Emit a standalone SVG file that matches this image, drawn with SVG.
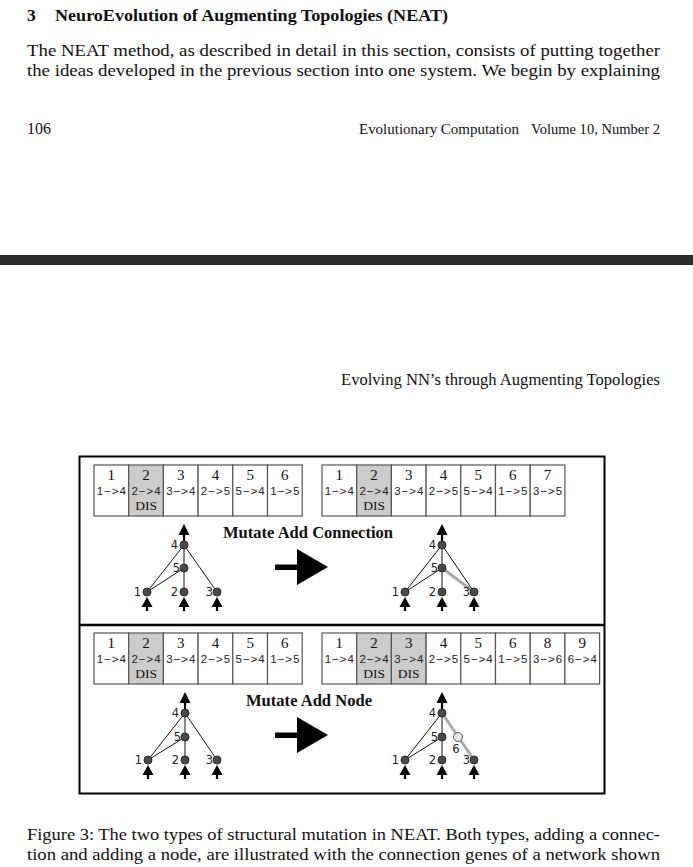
<svg xmlns="http://www.w3.org/2000/svg" width="693" height="867" viewBox="0 0 693 867">
<style>
.head{font-family:"Liberation Serif",serif;font-weight:bold;font-size:17.5px;fill:#111}
.para{font-family:"Liberation Serif",serif;font-size:17.5px;fill:#111}
.small{font-family:"Liberation Serif",serif;font-size:14px;fill:#111}
.gene rect{fill:#fff;stroke:#555;stroke-width:1.2}
.gene.dis rect{fill:#cccccc}
.num{font-family:"Liberation Serif",serif;font-size:15px;text-anchor:middle;fill:#111}
.conn{font-family:"Liberation Sans","DejaVu Sans",sans-serif;font-size:11.5px;letter-spacing:1px;text-anchor:middle;fill:#222}
.dis{font-family:"Liberation Serif",serif;font-size:13.5px;text-anchor:middle;fill:#111}
.title{font-family:"Liberation Serif",serif;font-weight:bold;font-size:16.5px;fill:#111}
.node circle{fill:#4a4a4a;stroke:#2a2a2a;stroke-width:1}
.node.new circle{fill:#e4e4e4;stroke:#555}
.lbl{font-family:"DejaVu Sans","Liberation Sans",sans-serif;font-size:11.5px;fill:#222;text-anchor:end}
.lbl6{font-family:"DejaVu Sans","Liberation Sans",sans-serif;font-size:11.5px;fill:#222;text-anchor:middle}
.edge{stroke:#111;stroke-width:1;fill:none}
.edge.newe{stroke:#aaaaaa;stroke-width:3}
.io{stroke:#000;stroke-width:2.2;fill:none}
.frame{fill:none;stroke:#000;stroke-width:2}
</style>
<defs>
<g id="inArrow"><line class="io" x1="0" y1="10" x2="0" y2="19"/><polygon points="0,5 -5.5,15 5.5,15" fill="#000"/></g>
<g id="outArrow"><line class="io" x1="0" y1="-4" x2="0" y2="-12"/><polygon points="0,-21 -5.5,-10 5.5,-10" fill="#000"/></g>
<g id="bigArrow"><rect x="275" y="-2.5" width="24" height="5.5" fill="#000"/><polygon points="297,-18 328,0 297,18" fill="#000"/></g>
</defs>

<!-- page text -->
<text class="head" x="27" y="21">3</text>
<text class="head" x="55" y="21" textLength="393" lengthAdjust="spacingAndGlyphs">NeuroEvolution of Augmenting Topologies (NEAT)</text>
<text class="para" x="27" y="56" textLength="633" lengthAdjust="spacingAndGlyphs">The NEAT method, as described in detail in this section, consists of putting together</text>
<text class="para" x="27" y="76" textLength="633" lengthAdjust="spacingAndGlyphs">the ideas developed in the previous section into one system.  We begin by explaining</text>
<text class="para" x="27" y="134" style="font-size:16px">106</text>
<text class="small" x="359" y="134" textLength="160" lengthAdjust="spacingAndGlyphs">Evolutionary Computation</text>
<text class="small" x="531" y="134" textLength="129" lengthAdjust="spacingAndGlyphs">Volume 10, Number 2</text>
<rect x="0" y="255" width="693" height="10" fill="#2b2b2b"/>
<text class="para" x="341" y="385" textLength="319" lengthAdjust="spacingAndGlyphs" style="font-size:16px">Evolving NN’s through Augmenting Topologies</text>
<text class="para" x="27" y="840" textLength="633" lengthAdjust="spacingAndGlyphs">Figure 3: The two types of structural mutation in NEAT. Both types, adding a connec-</text>
<text class="para" x="27" y="860" textLength="633" lengthAdjust="spacingAndGlyphs">tion and adding a node, are illustrated with the connection genes of a network shown</text>

<!-- figure frame -->
<g id="frame">
<rect class="frame" x="79.5" y="456.5" width="525" height="337"/>
<line x1="79.5" y1="625" x2="604.5" y2="625" stroke="#000" stroke-width="2.5"/>
</g>

<text class="title" x="223" y="538" textLength="170" lengthAdjust="spacingAndGlyphs">Mutate Add Connection</text>
<text class="title" x="246" y="706" textLength="126" lengthAdjust="spacingAndGlyphs">Mutate Add Node</text>

<use href="#bigArrow" y="567"/>
<use href="#bigArrow" y="735"/>

<!-- Genomes: top-left -->
<g id="genome-tl">
<g class="gene" id="tl-g1"><rect x="94" y="465" width="34.7" height="51"/><text class="num" x="111.35" y="480">1</text><text class="conn" x="111.85" y="495">1−&gt;4</text></g>
<g class="gene dis" id="tl-g2"><rect x="128.7" y="465" width="34.7" height="51"/><text class="num" x="146.05" y="480">2</text><text class="conn" x="146.55" y="495">2−&gt;4</text><text class="dis" x="146.05" y="510">DIS</text></g>
<g class="gene" id="tl-g3"><rect x="163.4" y="465" width="34.7" height="51"/><text class="num" x="180.75" y="480">3</text><text class="conn" x="181.25" y="495">3−&gt;4</text></g>
<g class="gene" id="tl-g4"><rect x="198.1" y="465" width="34.7" height="51"/><text class="num" x="215.45" y="480">4</text><text class="conn" x="215.95" y="495">2−&gt;5</text></g>
<g class="gene" id="tl-g5"><rect x="232.8" y="465" width="34.7" height="51"/><text class="num" x="250.15" y="480">5</text><text class="conn" x="250.65" y="495">5−&gt;4</text></g>
<g class="gene" id="tl-g6"><rect x="267.5" y="465" width="34.7" height="51"/><text class="num" x="284.85" y="480">6</text><text class="conn" x="285.35" y="495">1−&gt;5</text></g>
</g>
<!-- top-right -->
<g id="genome-tr">
<g class="gene" id="tr-g1"><rect x="322" y="465" width="34.7" height="51"/><text class="num" x="339.35" y="480">1</text><text class="conn" x="339.85" y="495">1−&gt;4</text></g>
<g class="gene dis" id="tr-g2"><rect x="356.7" y="465" width="34.7" height="51"/><text class="num" x="374.05" y="480">2</text><text class="conn" x="374.55" y="495">2−&gt;4</text><text class="dis" x="374.05" y="510">DIS</text></g>
<g class="gene" id="tr-g3"><rect x="391.4" y="465" width="34.7" height="51"/><text class="num" x="408.75" y="480">3</text><text class="conn" x="409.25" y="495">3−&gt;4</text></g>
<g class="gene" id="tr-g4"><rect x="426.1" y="465" width="34.7" height="51"/><text class="num" x="443.45" y="480">4</text><text class="conn" x="443.95" y="495">2−&gt;5</text></g>
<g class="gene" id="tr-g5"><rect x="460.8" y="465" width="34.7" height="51"/><text class="num" x="478.15" y="480">5</text><text class="conn" x="478.65" y="495">5−&gt;4</text></g>
<g class="gene" id="tr-g6"><rect x="495.5" y="465" width="34.7" height="51"/><text class="num" x="512.85" y="480">6</text><text class="conn" x="513.35" y="495">1−&gt;5</text></g>
<g class="gene" id="tr-g7"><rect x="530.2" y="465" width="34.7" height="51"/><text class="num" x="547.55" y="480">7</text><text class="conn" x="548.05" y="495">3−&gt;5</text></g>
</g>
<!-- bottom-left -->
<g id="genome-bl">
<g class="gene" id="bl-g1"><rect x="94" y="633" width="34.7" height="51"/><text class="num" x="111.35" y="648">1</text><text class="conn" x="111.85" y="663">1−&gt;4</text></g>
<g class="gene dis" id="bl-g2"><rect x="128.7" y="633" width="34.7" height="51"/><text class="num" x="146.05" y="648">2</text><text class="conn" x="146.55" y="663">2−&gt;4</text><text class="dis" x="146.05" y="678">DIS</text></g>
<g class="gene" id="bl-g3"><rect x="163.4" y="633" width="34.7" height="51"/><text class="num" x="180.75" y="648">3</text><text class="conn" x="181.25" y="663">3−&gt;4</text></g>
<g class="gene" id="bl-g4"><rect x="198.1" y="633" width="34.7" height="51"/><text class="num" x="215.45" y="648">4</text><text class="conn" x="215.95" y="663">2−&gt;5</text></g>
<g class="gene" id="bl-g5"><rect x="232.8" y="633" width="34.7" height="51"/><text class="num" x="250.15" y="648">5</text><text class="conn" x="250.65" y="663">5−&gt;4</text></g>
<g class="gene" id="bl-g6"><rect x="267.5" y="633" width="34.7" height="51"/><text class="num" x="284.85" y="648">6</text><text class="conn" x="285.35" y="663">1−&gt;5</text></g>
</g>
<!-- bottom-right -->
<g id="genome-br">
<g class="gene" id="br-g1"><rect x="322" y="633" width="34.7" height="51"/><text class="num" x="339.35" y="648">1</text><text class="conn" x="339.85" y="663">1−&gt;4</text></g>
<g class="gene dis" id="br-g2"><rect x="356.7" y="633" width="34.7" height="51"/><text class="num" x="374.05" y="648">2</text><text class="conn" x="374.55" y="663">2−&gt;4</text><text class="dis" x="374.05" y="678">DIS</text></g>
<g class="gene dis" id="br-g3"><rect x="391.4" y="633" width="34.7" height="51"/><text class="num" x="408.75" y="648">3</text><text class="conn" x="409.25" y="663">3−&gt;4</text><text class="dis" x="408.75" y="678">DIS</text></g>
<g class="gene" id="br-g4"><rect x="426.1" y="633" width="34.7" height="51"/><text class="num" x="443.45" y="648">4</text><text class="conn" x="443.95" y="663">2−&gt;5</text></g>
<g class="gene" id="br-g5"><rect x="460.8" y="633" width="34.7" height="51"/><text class="num" x="478.15" y="648">5</text><text class="conn" x="478.65" y="663">5−&gt;4</text></g>
<g class="gene" id="br-g6"><rect x="495.5" y="633" width="34.7" height="51"/><text class="num" x="512.85" y="648">6</text><text class="conn" x="513.35" y="663">1−&gt;5</text></g>
<g class="gene" id="br-g8"><rect x="530.2" y="633" width="34.7" height="51"/><text class="num" x="547.55" y="648">8</text><text class="conn" x="548.05" y="663">3−&gt;6</text></g>
<g class="gene" id="br-g9"><rect x="564.9" y="633" width="34.7" height="51"/><text class="num" x="582.25" y="648">9</text><text class="conn" x="582.75" y="663">6−&gt;4</text></g>
</g>

<!-- connectors -->
<g id="connectors">
<!-- top-left net -->
<line class="edge" x1="147" y1="592" x2="184" y2="545"/>
<line class="edge" x1="147" y1="592" x2="184" y2="568"/>
<line class="edge" x1="184" y1="568" x2="184" y2="545"/>
<line class="edge" x1="184" y1="592" x2="184" y2="568"/>
<line class="edge" x1="217" y1="592" x2="184" y2="545"/>
<!-- top-right net -->
<line class="edge newe" x1="442" y1="568" x2="474" y2="592"/>
<line class="edge" x1="405" y1="592" x2="442" y2="545"/>
<line class="edge" x1="405" y1="592" x2="442" y2="568"/>
<line class="edge" x1="442" y1="568" x2="442" y2="545"/>
<line class="edge" x1="442" y1="592" x2="442" y2="568"/>
<line class="edge" x1="474" y1="592" x2="442" y2="545"/>
<!-- bottom-left net -->
<line class="edge" x1="148" y1="760" x2="185" y2="713"/>
<line class="edge" x1="148" y1="760" x2="185" y2="737"/>
<line class="edge" x1="185" y1="737" x2="185" y2="713"/>
<line class="edge" x1="185" y1="760" x2="185" y2="737"/>
<line class="edge" x1="217" y1="760" x2="185" y2="713"/>
<!-- bottom-right net -->
<line class="edge newe" x1="442" y1="713" x2="474" y2="760"/>
<line class="edge" x1="405" y1="760" x2="442" y2="713"/>
<line class="edge" x1="405" y1="760" x2="442" y2="737"/>
<line class="edge" x1="442" y1="737" x2="442" y2="713"/>
<line class="edge" x1="442" y1="760" x2="442" y2="737"/>
<!-- io arrows -->
<use href="#outArrow" x="184" y="545"/>
<use href="#inArrow" x="147" y="592"/><use href="#inArrow" x="184" y="592"/><use href="#inArrow" x="217" y="592"/>
<use href="#outArrow" x="442" y="545"/>
<use href="#inArrow" x="405" y="592"/><use href="#inArrow" x="442" y="592"/><use href="#inArrow" x="474" y="592"/>
<use href="#outArrow" x="185" y="713"/>
<use href="#inArrow" x="148" y="760"/><use href="#inArrow" x="185" y="760"/><use href="#inArrow" x="217" y="760"/>
<use href="#outArrow" x="442" y="713"/>
<use href="#inArrow" x="405" y="760"/><use href="#inArrow" x="442" y="760"/><use href="#inArrow" x="474" y="760"/>
</g>

<!-- nodes top-left -->
<g class="node" id="tl-n4"><circle cx="184" cy="545" r="4"/><text class="lbl" x="178" y="549">4</text></g>
<g class="node" id="tl-n5"><circle cx="184" cy="568" r="4"/><text class="lbl" x="180" y="572">5</text></g>
<g class="node" id="tl-n1"><circle cx="147" cy="592" r="4"/><text class="lbl" x="141" y="596">1</text></g>
<g class="node" id="tl-n2"><circle cx="184" cy="592" r="4"/><text class="lbl" x="178" y="596">2</text></g>
<g class="node" id="tl-n3"><circle cx="217" cy="592" r="4"/><text class="lbl" x="213" y="596">3</text></g>
<!-- nodes top-right -->
<g class="node" id="tr-n4"><circle cx="442" cy="545" r="4"/><text class="lbl" x="436" y="549">4</text></g>
<g class="node" id="tr-n5"><circle cx="442" cy="568" r="4"/><text class="lbl" x="438" y="572">5</text></g>
<g class="node" id="tr-n1"><circle cx="405" cy="592" r="4"/><text class="lbl" x="399" y="596">1</text></g>
<g class="node" id="tr-n2"><circle cx="442" cy="592" r="4"/><text class="lbl" x="436" y="596">2</text></g>
<g class="node" id="tr-n3"><circle cx="474" cy="592" r="4"/><text class="lbl" x="470" y="596">3</text></g>
<!-- nodes bottom-left -->
<g class="node" id="bl-n4"><circle cx="185" cy="713" r="4"/><text class="lbl" x="179" y="717">4</text></g>
<g class="node" id="bl-n5"><circle cx="185" cy="737" r="4"/><text class="lbl" x="181" y="741">5</text></g>
<g class="node" id="bl-n1"><circle cx="148" cy="760" r="4"/><text class="lbl" x="142" y="764">1</text></g>
<g class="node" id="bl-n2"><circle cx="185" cy="760" r="4"/><text class="lbl" x="179" y="764">2</text></g>
<g class="node" id="bl-n3"><circle cx="217" cy="760" r="4"/><text class="lbl" x="213" y="764">3</text></g>
<!-- nodes bottom-right -->
<g class="node" id="br-n4"><circle cx="442" cy="713" r="4"/><text class="lbl" x="436" y="717">4</text></g>
<g class="node" id="br-n5"><circle cx="442" cy="737" r="4"/><text class="lbl" x="438" y="741">5</text></g>
<g class="node new" id="br-n6"><circle cx="458" cy="737" r="4.5"/><text class="lbl6" x="456" y="753">6</text></g>
<g class="node" id="br-n1"><circle cx="405" cy="760" r="4"/><text class="lbl" x="399" y="764">1</text></g>
<g class="node" id="br-n2"><circle cx="442" cy="760" r="4"/><text class="lbl" x="436" y="764">2</text></g>
<g class="node" id="br-n3"><circle cx="474" cy="760" r="4"/><text class="lbl" x="470" y="764">3</text></g>
</svg>
